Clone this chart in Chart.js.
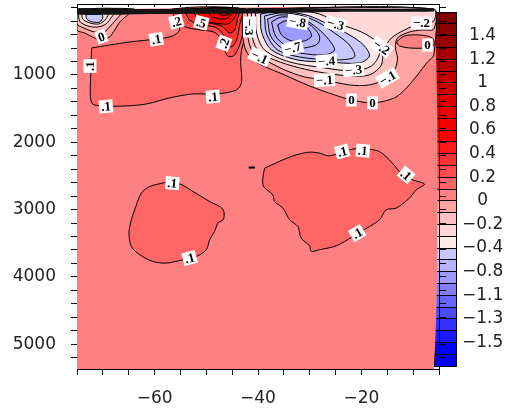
<!DOCTYPE html>
<html>
<head>
<meta charset="utf-8">
<script src="https://cdn.jsdelivr.net/npm/chart.js@4.4.1/dist/chart.umd.min.js"></script>
<style>
  html, body { margin: 0; padding: 0; background: #fff; }
  #wrap { position: relative; width: 509px; height: 415px; }
  #bar { position: absolute; left: 434px; top: 0; }
  #main { position: absolute; left: 0; top: 0; }
</style>
</head>
<body>
<div id="wrap">
  <canvas id="bar" width="75" height="415"></canvas>
  <canvas id="main" width="509" height="415"></canvas>
</div>
<script>
// axis ticks and labels
const lonTicks = [-75, -70, -65, -60, -55, -50, -45, -40, -35, -30, -25, -20, -15, -10, -5];
const lonLabels = [-60, -40, -20];
const depthTicks = [0, 200, 400, 600, 800, 1000, 1200, 1400, 1600, 1800, 2000, 2200, 2400, 2600, 2800,
  3000, 3200, 3400, 3600, 3800, 4000, 4200, 4400, 4600, 4800, 5000, 5200];
const depthLabels = [1000, 2000, 3000, 4000, 5000];

// colour bar: level boundaries top to bottom, one colour per band
const barLevels = [1.6, 1.5, 1.4, 1.3, 1.2, 1.1, 1, 0.9, 0.8, 0.7, 0.6, 0.5, 0.4, 0.3, 0.2, 0.1, 0,
  -0.1, -0.2, -0.3, -0.4, -0.6, -0.8, -1, -1.1, -1.2, -1.3, -1.4, -1.5, -1.6, -1.7];
const barColors = ['#7c0000', '#8a0000', '#980000', '#a60000', '#b40000', '#c20000', '#d00000', '#de0000',
  '#ec0000', '#f80000', '#ff0000', '#ff1a1a', '#ff3333', '#ff4d4d', '#ff6666', '#ff8080',
  '#ffa3a3', '#ffc0c0', '#ffd8d8', '#ffe8e8', '#c8c8ff', '#b4b4ff', '#9a9aff', '#8080ff',
  '#6666ff', '#4c4cff', '#3333ff', '#1a1aff', '#0000ff', '#0000f4'];

// contours, [longitude, depth] vertices
const fieldBox = [[-75, 20], [-6, 20], [-6, 5370], [-75, 5370]];
const deepWest01 = [[-58.05, 2599], [-60.95, 2658], [-62.56, 2756], [-63.85, 3004], [-64.49, 3153], [-64.95, 3350],
  [-64.49, 3549], [-62.88, 3672], [-60.31, 3772], [-57.72, 3796], [-54.52, 3747], [-51.93, 3698], [-50, 3598],
  [-49.36, 3450], [-48.4, 3326], [-47.75, 3202], [-46.65, 3142], [-46.79, 2994], [-49.36, 2881], [-52.58, 2732],
  [-55.15, 2618]];
const deepEast01 = [[-38.73, 2385], [-39.06, 2533], [-38.92, 2658], [-37.13, 2781], [-36.8, 2881], [-35.19, 2979],
  [-33.87, 3153], [-32.29, 3252], [-31.64, 3424], [-30.03, 3539], [-29.7, 3623], [-28.1, 3598], [-24.87, 3539],
  [-21.67, 3401], [-18.44, 3252], [-16.51, 3153], [-15.21, 3004], [-13.28, 2979], [-10.71, 2830], [-9.42, 2707],
  [-7.81, 2622], [-10.07, 2559], [-12.01, 2484], [-14.58, 2262], [-16.51, 2138], [-18.44, 2103], [-20.37, 2088],
  [-22.94, 2124], [-26.17, 2202], [-28.1, 2162], [-30.03, 2147], [-32.6, 2187], [-35.19, 2262]];
const upper01 = [[-72.16, 598], [-68.68, 554], [-64.82, 509], [-59.6, 465], [-56.51, 420], [-55.15, 331],
  [-55.54, 183], [-56.31, 20], [-42.59, 20], [-42.2, 212], [-42.59, 450], [-43.17, 628], [-43.36, 806],
  [-43.17, 1103], [-44.13, 1222], [-48, 1282], [-52.64, 1282], [-57.09, 1341], [-61.53, 1430], [-65.4, 1460],
  [-70.03, 1460], [-72.16, 1415], [-72.35, 999]];
const tongue02 = [[-56.7, 20], [-55.93, 183], [-54.01, 287], [-51.11, 331], [-48.6, 361], [-47.25, 450],
  [-46.67, 584], [-45.89, 717], [-44.73, 717], [-43.77, 598], [-43, 405], [-42.4, 183], [-42.4, 20]];
const tongue03 = [[-54.19, 20], [-53.22, 183], [-50.71, 257], [-48.39, 287], [-47.04, 361], [-46.07, 509],
  [-45.11, 584], [-44.14, 480], [-43.56, 257], [-43.17, 20]];
const tongue04 = [[-52.64, 20], [-51.67, 168], [-49.35, 227], [-47.04, 272], [-45.49, 376], [-44.53, 331],
  [-43.94, 153], [-43.56, 20]];
const tongue05 = [[-51.67, 20], [-50.9, 198], [-48.39, 227], [-45.88, 242], [-44.53, 153], [-44.14, 20]];
const tongue06 = [[-50.13, 20], [-48.78, 138], [-46.26, 168], [-44.91, 79], [-44.72, 20]];
const tongue07 = [[-48.58, 20], [-47.23, 108], [-45.49, 94], [-45.11, 20]];
const eddy0 = [[-42.98, 20], [-42.98, 405], [-42.21, 658], [-40.08, 821], [-34.87, 999], [-30.03, 1163],
  [-25.2, 1296], [-21.92, 1371], [-17.86, 1415], [-13.61, 1341], [-11.29, 1192], [-9.16, 999], [-7.23, 806],
  [-6, 702], [-6, 20]];
const eddyM01 = [[-42.01, 20], [-42.01, 405], [-41.05, 658], [-39.31, 747], [-34.87, 925], [-31, 1029],
  [-27.14, 1074], [-22.31, 1148], [-18.44, 1148], [-14.96, 1044], [-13.42, 895], [-13.03, 747], [-13.42, 598],
  [-13.03, 450], [-10.71, 361], [-8.39, 331], [-6, 316], [-6, 20]];
const eddyM02 = [[-41.24, 20], [-41.24, 376], [-40.08, 628], [-36.8, 777], [-31.97, 895], [-27.14, 970],
  [-22.31, 1014], [-18.44, 999], [-16.12, 851], [-15.73, 628], [-14.19, 450], [-11.68, 331], [-8.39, 227],
  [-6, 198], [-6, 20]];
const eddyM03 = [[-40.47, 79], [-40.28, 376], [-38.73, 628], [-33.9, 806], [-27.14, 895], [-21.53, 940],
  [-18.05, 866], [-16.51, 688], [-17.09, 509], [-19.99, 361], [-24.24, 242], [-28.1, 94], [-31.97, 49],
  [-37.77, 49]];
const eddyM04 = [[-39.5, 94], [-39.31, 361], [-37.38, 628], [-32.35, 777], [-26.75, 806], [-20.37, 821],
  [-18.44, 717], [-19.6, 554], [-22.31, 405], [-26.17, 257], [-30.03, 123], [-33.9, 64], [-37.38, 64]];
const eddyM05 = [[-38.73, 123], [-38.34, 390], [-36.22, 628], [-31.97, 732], [-25.2, 777], [-21.34, 732],
  [-22.31, 554], [-25.2, 376], [-28.49, 212], [-31.97, 108], [-35.83, 79]];
const eddyM06 = [[-38.15, 168], [-37.57, 420], [-35.44, 598], [-31.97, 673], [-27.14, 702], [-25.2, 628],
  [-26.56, 450], [-29.07, 272], [-31.97, 138], [-35.83, 108]];
const eddyM07 = [[-37.38, 212], [-36.61, 420], [-34.87, 554], [-33.32, 598], [-31, 598], [-28.49, 539],
  [-28.1, 420], [-29.65, 272], [-31.97, 168], [-35.44, 138]];
const eddyM08 = [[-36.22, 257], [-35.44, 405], [-33.51, 494], [-31, 494], [-29.65, 420], [-30.42, 301],
  [-32.35, 212], [-34.87, 198]];
const eastLoop0 = [[-13.24, 509], [-11.68, 420], [-8.78, 405], [-6.27, 450], [-6, 554], [-7.81, 598],
  [-10.71, 598], [-12.65, 568]];
const corner0 = [[-75, 20], [-75, 331], [-73.5, 376], [-71.6, 450], [-70.2, 480], [-68.7, 435], [-67.7, 331],
  [-66.7, 212], [-65.2, 108], [-63.9, 20]];
const cornerM01 = [[-75, 20], [-75, 242], [-73.7, 301], [-71.6, 361], [-69.8, 361], [-68.7, 287], [-67.5, 183],
  [-66.3, 79], [-65.8, 20]];
const cornerM02 = [[-74.7, 20], [-74.5, 198], [-72.9, 272], [-71, 287], [-69.4, 242], [-68.3, 138], [-67.3, 20]];
const cornerM03 = [[-74.1, 49], [-73.9, 168], [-72.5, 227], [-70.8, 242], [-69.6, 183], [-68.9, 94], [-68.7, 20]];
const cornerM04 = [[-73.3, 79], [-73.1, 168], [-72, 212], [-70.6, 212], [-70, 138], [-70.4, 79], [-71.8, 64]];
const surfaceBand = [[-75, 20], [-6, 20], [-6, 55], [-22.3, 60], [-32, 72], [-41.6, 88], [-60, 95], [-75, 100]];
const dash = [[-41.8, 2376], [-40.6, 2376]];

// contour labels: [longitude, depth, text, angle in degrees]
const contourLabels = [
  [-72.5, 867, '.1', -90], [-69.4, 1466, '.1', -5], [-59.66, 469, '.1', -10], [-48.72, 1322, '.1', -5],
  [-55.79, 208, '.2', -15], [-50.96, 223, '.5', 15], [-46.59, 529, '.2', -70], [-70.29, 431, '0', -20],
  [-41.63, 287, '−.3', 90], [-32.35, 212, '−.8', 10], [-33.32, 598, '−.7', -15], [-25.01, 242, '−.3', 15],
  [-26.75, 792, '−.4', -5], [-21.53, 925, '−.3', -5], [-39.7, 732, '−.1', 25], [-27.14, 1074, '−.1', -3],
  [-14.96, 1044, '−.1', -30], [-16.12, 584, '−.2', 35], [-8.39, 227, '−.2', 0], [-21.92, 1371, '0', 0],
  [-17.86, 1415, '0', 0], [-7.23, 554, '0', 0], [-56.56, 2608, '.1', 5], [-53.22, 3721, '.1', -15],
  [-23.71, 2138, '.1', -15], [-19.73, 2124, '.1', 5], [-11.35, 2484, '.1', 40], [-20.82, 3350, '.1', -30]
];

// bottom to top: [vertices, fill colour, draw contour line]
const layers = [
  [fieldBox, '#ff8080', false],
  [deepWest01, '#ff6666', true],
  [deepEast01, '#ff6666', true],
  [upper01, '#ff6666', true],
  [tongue02, '#ff4d4d', true],
  [tongue03, '#ff3333', true],
  [tongue04, '#ff1a1a', true],
  [tongue05, '#ff0000', true],
  [tongue06, '#f80000', true],
  [tongue07, '#ec0000', true],
  [eddy0, '#ffa3a3', true],
  [eddyM01, '#ffc0c0', true],
  [eddyM02, '#ffd8d8', true],
  [eddyM03, '#ffe8e8', true],
  [eddyM04, '#c8c8ff', true],
  [eddyM05, '#c8c8ff', true],
  [eddyM06, '#b4b4ff', true],
  [eddyM07, '#b4b4ff', true],
  [eddyM08, '#9a9aff', true],
  [eastLoop0, '#ff8080', true],
  [corner0, '#ffa3a3', true],
  [cornerM01, '#ffc0c0', true],
  [cornerM02, '#ffd8d8', true],
  [cornerM03, '#ffe8e8', true],
  [cornerM04, '#c8c8ff', true],
  [surfaceBand, '#141414', false]
];

const datasets = layers.map(([pts, color, edged], i) => ({
  data: pts.concat([pts[0]]).map(([x, y]) => ({ x, y })),
  showLine: true,
  fill: 'shape',
  backgroundColor: color,
  borderColor: edged ? '#000' : 'rgba(0,0,0,0)',
  borderWidth: 1,
  tension: 0.3,
  pointRadius: 0,
  order: layers.length + 1 - i
}));
datasets.push({
  data: dash.map(([x, y]) => ({ x, y })),
  showLine: true,
  borderColor: '#000',
  borderWidth: 2,
  pointRadius: 0,
  order: 0
});

const contourLabelPlugin = {
  id: 'contourLabels',
  afterDatasetsDraw(chart) {
    const { ctx, scales: { x, y } } = chart;
    ctx.save();
    ctx.font = 'bold 13px "Liberation Serif"';
    ctx.textAlign = 'center';
    ctx.textBaseline = 'middle';
    for (const [lon, dep, txt, ang] of contourLabels) {
      const w = ctx.measureText(txt).width + 4;
      ctx.save();
      ctx.translate(x.getPixelForValue(lon), y.getPixelForValue(dep));
      ctx.rotate(ang * Math.PI / 180);
      ctx.fillStyle = '#fff';
      ctx.fillRect(-w / 2, -6.5, w, 13);
      ctx.fillStyle = '#000';
      ctx.fillText(txt, 0, 1);
      ctx.restore();
    }
    ctx.restore();
  }
};

const tickFont = { family: 'DejaVu Sans', size: 17 };
const minus = v => String(v).replace('-', '−');
// fixed box sizes so the plot frame lands where the original has it
const fixBox = (w, h) => s => {
  if (w !== null) s.width = w;
  if (h !== null) s.height = h;
  s.paddingTop = 0; s.paddingBottom = 0; s.paddingLeft = 0; s.paddingRight = 0;
};
const useTicks = list => s => { s.ticks = list.map(value => ({ value })); };

new Chart(document.getElementById('main'), {
  type: 'scatter',
  data: { datasets },
  plugins: [contourLabelPlugin],
  options: {
    responsive: false,
    animation: false,
    devicePixelRatio: 1,
    events: [],
    layout: { padding: 0 },
    plugins: { legend: { display: false }, tooltip: { enabled: false } },
    scales: {
      x: {
        type: 'linear', position: 'bottom', min: -75, max: -5,
        afterBuildTicks: useTicks(lonTicks),
        afterFit: fixBox(null, 46),
        ticks: {
          autoSkip: false, maxRotation: 0, padding: 13, color: '#222', font: tickFont,
          callback: v => lonLabels.includes(v) ? minus(v) : ''
        },
        grid: { drawOnChartArea: false, tickLength: 6, color: '#000' },
        border: { color: '#000', width: 1 }
      },
      x2: {
        type: 'linear', position: 'top', min: -75, max: -5,
        afterBuildTicks: useTicks(lonTicks),
        afterFit: fixBox(null, 4),
        ticks: { display: false, autoSkip: false },
        grid: { drawOnChartArea: false, tickLength: -3, color: '#000' },
        border: { color: '#000', width: 1 }
      },
      y: {
        type: 'linear', position: 'left', reverse: true, min: -55, max: 5370,
        afterBuildTicks: useTicks(depthTicks),
        afterFit: fixBox(77, null),
        ticks: {
          autoSkip: false, padding: 15, color: '#222', font: tickFont,
          callback: v => depthLabels.includes(v) ? String(v) : ''
        },
        grid: { drawOnChartArea: false, tickLength: 6, color: '#000' },
        border: { color: '#000', width: 1 }
      },
      y2: {
        type: 'linear', position: 'right', reverse: true, min: -55, max: 5370,
        afterBuildTicks: useTicks(depthTicks),
        afterFit: fixBox(70, null),
        ticks: { display: false, autoSkip: false },
        grid: { drawOnChartArea: false, tickLength: 7, color: '#000' },
        border: { color: '#000', width: 1 }
      }
    }
  }
});

new Chart(document.getElementById('bar'), {
  type: 'bar',
  data: {
    labels: [''],
    datasets: barColors.map((c, i) => ({
      data: [[i, i + 1]],
      backgroundColor: c,
      borderWidth: 0,
      grouped: false,
      barPercentage: 1,
      categoryPercentage: 1
    }))
  },
  options: {
    responsive: false,
    animation: false,
    devicePixelRatio: 1,
    events: [],
    layout: { padding: { top: 12, bottom: 49, left: 0, right: 0 } },
    plugins: { legend: { display: false }, tooltip: { enabled: false } },
    scales: {
      x: {
        afterFit: fixBox(null, 0),
        ticks: { display: false },
        grid: { display: true, drawTicks: false, offset: true, color: '#000', z: 1 },
        border: { display: true, color: '#000', z: 1 }
      },
      y: {
        position: 'right', reverse: true, min: 0, max: barLevels.length - 1,
        afterFit: fixBox(53, null),
        ticks: {
          stepSize: 1, autoSkip: false, padding: 6, crossAlign: 'center', color: '#222', font: tickFont,
          callback: i => (i % 2 === 0 && i >= 2 && i <= 28) ? minus(barLevels[i]) : ''
        },
        grid: { display: true, drawTicks: false, color: '#000', z: 1 },
        border: { display: true, color: '#000', z: 1 }
      }
    }
  }
});
</script>
</body>
</html>
